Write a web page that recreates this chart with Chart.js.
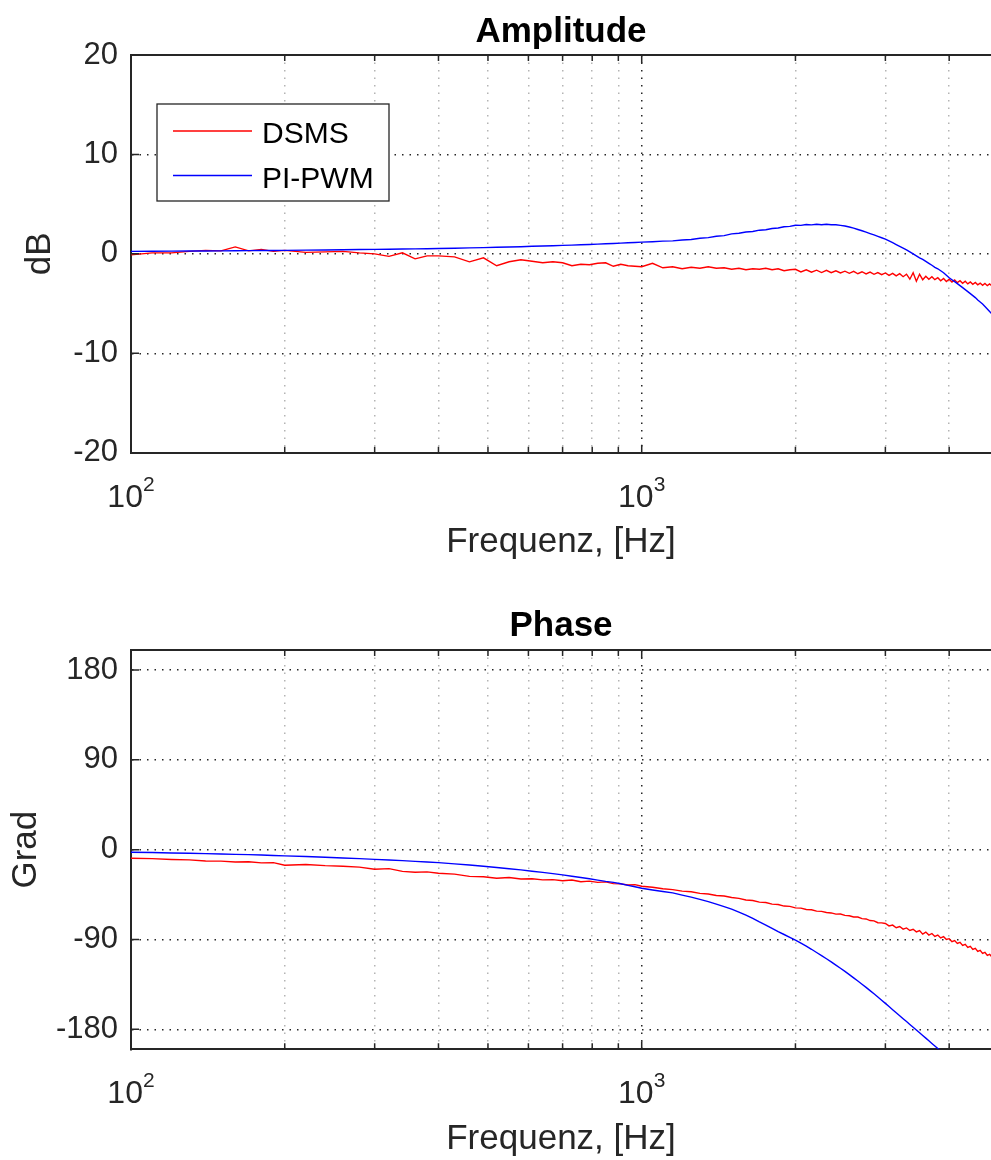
<!DOCTYPE html>
<html>
<head>
<meta charset="utf-8">
<title>Frequenzgang DSMS / PI-PWM</title>
<script src="https://cdn.jsdelivr.net/npm/chart.js@4.4.1/dist/chart.umd.min.js"></script>
<style>
  body { margin: 0; background: #fff; overflow: hidden; }
  canvas { display: block; }
</style>
</head>
<body>
<canvas id="amp" width="991" height="580"></canvas>
<canvas id="phase" width="991" height="580"></canvas>
<script>
// Messfrequenzen in Hz
const freq = [
  100, 110, 120, 130, 140, 150, 160, 170, 180, 190,
  200, 220, 240, 260, 280, 300, 320, 340, 360, 380,
  400, 430, 460, 490, 520, 550, 580, 610, 640, 670,
  700, 730, 760, 790, 820, 850, 880, 910, 940, 970,
  1000, 1050, 1100, 1150, 1200, 1250, 1300, 1350, 1400, 1450,
  1500, 1550, 1600, 1650, 1700, 1750, 1800, 1850, 1900, 1950,
  2000, 2050, 2100, 2150, 2200, 2250, 2300, 2350, 2400, 2450,
  2500, 2550, 2600, 2650, 2700, 2750, 2800, 2850, 2900, 2950,
  3000, 3050, 3100, 3150, 3200, 3250, 3300, 3350, 3400, 3450,
  3500, 3550, 3600, 3650, 3700, 3750, 3800, 3850, 3900, 3950,
  4000, 4050, 4100, 4150, 4200, 4250, 4300, 4350, 4400, 4450,
  4500, 4550, 4600, 4650, 4700, 4750, 4800, 4850
];

// Amplitude in dB
const ampDSMS = [
  -0.1, 0.1, 0.1, 0.25, 0.35, 0.3, 0.7, 0.3, 0.45, 0.25,
  0.35, 0.15, 0.2, 0.25, 0.1, 0.0, -0.25, 0.1, -0.5, -0.2,
  -0.2, -0.3, -0.8, -0.4, -1.2, -0.8, -0.6, -0.75, -0.9, -0.8,
  -0.9, -1.2, -1.05, -1.1, -0.95, -0.9, -1.25, -1.05, -1.2, -1.25,
  -1.3, -0.95, -1.4, -1.3, -1.5, -1.35, -1.45, -1.3, -1.45, -1.4,
  -1.55, -1.45, -1.6, -1.5, -1.55, -1.45, -1.6, -1.5, -1.7, -1.6,
  -1.55, -1.82, -1.6, -1.85, -1.64, -1.88, -1.66, -1.9, -1.7, -1.92,
  -1.74, -1.96, -1.76, -2.0, -1.8, -2.02, -1.84, -2.06, -1.88, -2.1,
  -1.92, -2.16, -1.96, -2.22, -2.0, -2.3, -2.05, -2.55, -1.9, -2.75,
  -2.05, -2.6, -2.25, -2.55, -2.3, -2.6, -2.4, -2.7, -2.48, -2.78,
  -2.56, -2.84, -2.62, -2.9, -2.7, -2.96, -2.76, -3.02, -2.82, -3.06,
  -2.88, -3.12, -2.94, -3.16, -2.98, -3.2, -3.02, -3.22
];
const ampPIPWM = [
  0.25, 0.26, 0.27, 0.28, 0.29, 0.3, 0.31, 0.32, 0.33, 0.34,
  0.35, 0.37, 0.39, 0.41, 0.43, 0.45, 0.47, 0.49, 0.5, 0.52,
  0.54, 0.57, 0.6, 0.63, 0.66, 0.69, 0.72, 0.76, 0.79, 0.82,
  0.85, 0.88, 0.91, 0.94, 0.98, 1.01, 1.04, 1.08, 1.11, 1.14,
  1.18, 1.22, 1.28, 1.31, 1.4, 1.44, 1.57, 1.63, 1.77, 1.83,
  2.01, 2.07, 2.2, 2.25, 2.38, 2.43, 2.55, 2.6, 2.73, 2.76,
  2.87, 2.86, 2.95, 2.91, 2.98, 2.93, 2.97, 2.92, 2.93, 2.86,
  2.8, 2.7, 2.58, 2.45, 2.32, 2.18, 2.04, 1.9, 1.76, 1.62,
  1.48, 1.3, 1.12, 0.94, 0.76, 0.58, 0.4, 0.2, 0.0, -0.2,
  -0.4, -0.55, -0.75, -0.95, -1.15, -1.35, -1.5, -1.7, -1.9, -2.15,
  -2.4, -2.6, -2.8, -3.0, -3.2, -3.4, -3.6, -3.8, -4.0, -4.2,
  -4.4, -4.65, -4.85, -5.05, -5.3, -5.55, -5.8, -6.05
];

// Phase in Grad
const phaseDSMS = [
  -8.6, -9.0, -9.8, -10.2, -11.3, -11.5, -12.4, -12.1, -13.2, -13.0,
  -15.6, -14.9, -16.0, -16.6, -17.5, -19.6, -19.0, -21.8, -22.6, -22.3,
  -23.6, -24.5, -26.8, -27.2, -28.6, -27.9, -29.4, -29.1, -30.3, -30.0,
  -31.2, -30.4, -32.1, -31.5, -32.8, -32.3, -34.0, -34.3, -35.4, -35.1,
  -36.6, -37.6, -39.2, -40.0, -41.6, -42.2, -43.8, -44.4, -45.9, -46.5,
  -47.9, -48.8, -50.4, -50.9, -52.6, -53.0, -54.6, -54.9, -56.5, -56.8,
  -58.3, -58.6, -60.0, -60.2, -61.6, -61.8, -62.9, -63.4, -64.6, -64.5,
  -65.8, -66.2, -67.4, -67.5, -69.1, -69.4, -71.0, -71.3, -73.2, -73.4,
  -74.0, -76.4, -75.6, -78.2, -77.0, -79.6, -78.4, -81.0, -79.8, -82.4,
  -81.0, -84.6, -82.6, -85.6, -84.0, -87.0, -85.6, -88.4, -87.2, -90.0,
  -89.2, -92.2, -91.0, -94.0, -92.8, -96.0, -94.8, -98.0, -96.8, -100.0,
  -98.8, -102.0, -100.8, -104.0, -102.8, -106.0, -104.8, -107.6
];
const phasePIPWM = [
  -2.6, -2.9, -3.3, -3.6, -4.0, -4.3, -4.7, -5.0, -5.4, -5.8,
  -6.2, -6.9, -7.6, -8.3, -9.0, -9.7, -10.3, -11.0, -11.7, -12.3,
  -13.0, -14.2, -15.4, -16.6, -17.9, -19.1, -20.3, -21.6, -22.8, -24.0,
  -25.3, -26.6, -27.9, -29.2, -30.5, -31.8, -32.8, -34.2, -35.8, -37.2,
  -38.7, -40.4, -41.9, -43.3, -45.5, -47.6, -49.8, -52.0, -54.5, -57.0,
  -59.6, -62.5, -65.5, -68.9, -72.4, -75.5, -78.8, -82.2, -85.0, -87.8,
  -90.6, -93.7, -96.7, -99.8, -103.0, -106.1, -109.3, -112.4, -115.6, -118.8,
  -122.0, -125.2, -128.4, -131.6, -134.8, -138.0, -141.2, -144.4, -147.6, -150.8,
  -154.0, -157.2, -160.3, -163.3, -166.3, -169.3, -172.2, -175.1, -177.9, -180.7,
  -183.5, -186.2, -188.8, -191.5, -194.1, -196.6, -199.2, -201.7, -204.1, -206.6,
  null, null, null, null, null, null, null, null, null, null,
  null, null, null, null, null, null, null, null
];

// Achsenteilung (Exponent nur an den Dekaden)
const xTicks = [100, 200, 300, 400, 500, 600, 700, 800, 900, 1000, 2000, 3000, 4000];
const xTickExp = ['2', '', '', '', '', '', '', '', '', '3', '', '', ''];
const ampTicks = [-20, -10, 0, 10, 20];
const phaseTicks = [-180, -90, 0, 90, 180];

const FONT = '"Liberation Sans", Arial, Helvetica, sans-serif';
const AXIS = '#262626';

// Rahmen oben, Teilstriche nach innen, 10^n-Beschriftung, Titel und Legende
const frame = {
  id: 'frame',
  afterDatasetsDraw(chart, args, opts) {
    const { ctx, chartArea: a } = chart;
    const x = chart.scales.x, y = chart.scales.y;
    ctx.save();
    ctx.strokeStyle = AXIS;
    ctx.lineWidth = 2;
    ctx.beginPath();
    ctx.moveTo(a.left - 1, a.top);
    ctx.lineTo(a.right, a.top);
    ctx.stroke();
    ctx.lineWidth = 1.5;
    ctx.beginPath();
    xTicks.forEach((v, i) => {
      const px = x.getPixelForValue(v);
      const len = xTickExp[i] ? 8 : 6;
      ctx.moveTo(px, a.bottom);
      ctx.lineTo(px, a.bottom - len);
      ctx.moveTo(px, a.top);
      ctx.lineTo(px, a.top + len);
    });
    opts.yTicks.forEach(v => {
      const py = y.getPixelForValue(v);
      ctx.moveTo(a.left, py);
      ctx.lineTo(a.left + 8, py);
    });
    ctx.stroke();
    ctx.restore();
  },
  afterDraw(chart, args, opts) {
    const { ctx, chartArea: a } = chart;
    const x = chart.scales.x;
    ctx.save();

    // Dekadenbeschriftung 10^n
    ctx.fillStyle = AXIS;
    ctx.textAlign = 'left';
    ctx.textBaseline = 'alphabetic';
    xTicks.forEach((v, i) => {
      if (!xTickExp[i]) return;
      ctx.font = `32px ${FONT}`;
      const wBase = ctx.measureText('10').width;
      ctx.font = `21px ${FONT}`;
      const wExp = ctx.measureText(xTickExp[i]).width;
      const x0 = x.getPixelForValue(v) - (wBase + wExp) / 2;
      ctx.font = `32px ${FONT}`;
      ctx.fillText('10', x0, a.bottom + opts.labelBase);
      ctx.font = `21px ${FONT}`;
      ctx.fillText(xTickExp[i], x0 + wBase, a.bottom + opts.labelBase - 16);
    });

    ctx.fillStyle = '#000';
    ctx.font = `bold 35px ${FONT}`;
    ctx.textAlign = 'center';
    ctx.fillText(opts.title, (a.left + a.right) / 2, opts.titleBase);

    const box = opts.legendBox;
    if (box) {
      ctx.fillStyle = '#fff';
      ctx.fillRect(box.left, box.top, box.right - box.left, box.bottom - box.top);
      ctx.strokeStyle = AXIS;
      ctx.lineWidth = 1.3;
      ctx.strokeRect(box.left, box.top, box.right - box.left, box.bottom - box.top);
      ctx.font = `30px ${FONT}`;
      ctx.textAlign = 'left';
      chart.data.datasets.forEach((ds, i) => {
        const ly = box.top + 27 + i * 44.5;
        ctx.strokeStyle = ds.borderColor;
        ctx.lineWidth = 1.4;
        ctx.beginPath();
        ctx.moveTo(box.left + 16, ly);
        ctx.lineTo(box.left + 95, ly);
        ctx.stroke();
        ctx.fillStyle = '#000';
        ctx.fillText(ds.label, box.left + 105, ly + 12);
      });
    }
    ctx.restore();
  }
};

function series(label, values, color, order) {
  return {
    label,
    data: freq.map((f, i) => ({ x: f, y: values[i] })),
    borderColor: color,
    backgroundColor: color,
    borderWidth: 1.4,
    pointRadius: 0,
    tension: 0,
    order
  };
}

function bodePlot(id, cfg) {
  return new Chart(document.getElementById(id), {
    type: 'line',
    data: { datasets: cfg.datasets },
    options: {
      responsive: false,
      animation: false,
      events: [],
      layout: { padding: { top: cfg.top, left: 0, right: 0, bottom: 0 } },
      plugins: {
        legend: { display: false },
        tooltip: { enabled: false },
        frame: {
          title: cfg.title,
          titleBase: cfg.titleBase,
          labelBase: cfg.labelBase,
          yTicks: cfg.yTicks,
          legendBox: cfg.legendBox
        }
      },
      scales: {
        x: {
          type: 'logarithmic',
          min: 100,
          max: 4830,
          afterBuildTicks: s => { s.ticks = xTicks.map(v => ({ value: v })); },
          afterFit: s => { s.height = cfg.xHeight; },
          ticks: { autoSkip: false, maxRotation: 0, callback: () => '' },
          grid: {
            drawTicks: false,
            lineWidth: 1.5,
            color: c => (c.tick && xTickExp[xTicks.indexOf(c.tick.value)]) ? AXIS : '#b4b4b4'
          },
          border: { color: AXIS, width: 2, dash: [1.5, 6] },
          title: {
            display: true,
            text: 'Frequenz, [Hz]',
            color: AXIS,
            font: { family: FONT, size: 35 },
            padding: { top: 0, bottom: cfg.xTitlePad }
          }
        },
        y: {
          min: cfg.yTicks[0] - cfg.yPad,
          max: cfg.yTicks[cfg.yTicks.length - 1] + cfg.yPad,
          afterBuildTicks: s => { s.ticks = cfg.yTicks.map(v => ({ value: v })); },
          afterFit: s => { s.width = 131; },
          ticks: {
            padding: 13,
            color: AXIS,
            font: { family: FONT, size: 31 }
          },
          grid: { drawTicks: false, lineWidth: 1.5, color: AXIS },
          border: { color: AXIS, width: 2, dash: [1.5, 6] },
          title: {
            display: true,
            text: cfg.yLabel,
            color: AXIS,
            font: { family: FONT, size: 35 },
            padding: { top: cfg.yTitlePad, bottom: 0 }
          }
        }
      }
    },
    plugins: [frame]
  });
}

bodePlot('amp', {
  title: 'Amplitude',
  titleBase: 42,
  top: 55,
  xHeight: 127.3,
  labelBase: 54,
  xTitlePad: 16.5,
  yLabel: 'dB',
  yTitlePad: 19.5,
  yTicks: ampTicks,
  yPad: 0,
  legendBox: { left: 157, top: 104, right: 389, bottom: 201 },
  datasets: [
    series('DSMS', ampDSMS, '#ff0000', 1),
    series('PI-PWM', ampPIPWM, '#0000ff', 0)
  ]
});

bodePlot('phase', {
  title: 'Phase',
  titleBase: 56,
  top: 70,
  xHeight: 110.7,
  labelBase: 54,
  xTitlePad: 0,
  yLabel: 'Grad',
  yTitlePad: 5,
  yTicks: phaseTicks,
  yPad: 20,
  datasets: [
    series('DSMS', phaseDSMS, '#ff0000', 1),
    series('PI-PWM', phasePIPWM, '#0000ff', 0)
  ]
});
</script>
</body>
</html>
